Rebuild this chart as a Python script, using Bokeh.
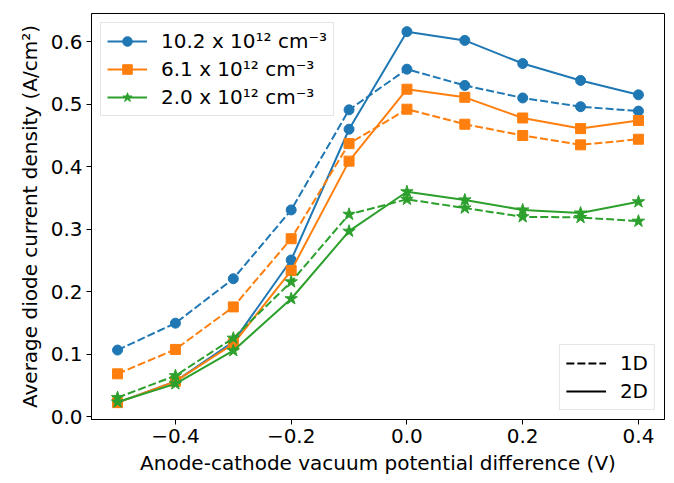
from bokeh.plotting import figure
from bokeh.models import Range1d, FixedTicker, Legend, LegendItem, ColumnDataSource
from bokeh.embed import file_html
from bokeh.resources import INLINE

# ---- data ----
voltage = [-0.5, -0.4, -0.3, -0.2, -0.1, 0.0, 0.1, 0.2, 0.3, 0.4]

blue_1d = [0.107, 0.150, 0.221, 0.331, 0.491, 0.556, 0.530, 0.510, 0.496, 0.489]
blue_2d = [0.023, 0.057, 0.120, 0.251, 0.460, 0.616, 0.602, 0.565, 0.538, 0.515]

orange_1d = [0.069, 0.108, 0.176, 0.285, 0.437, 0.492, 0.468, 0.450, 0.435, 0.444]
orange_2d = [0.023, 0.057, 0.117, 0.234, 0.409, 0.524, 0.511, 0.478, 0.461, 0.474]

green_1d = [0.031, 0.066, 0.126, 0.216, 0.324, 0.348, 0.334, 0.320, 0.319, 0.313]
green_2d = [0.024, 0.053, 0.106, 0.189, 0.297, 0.360, 0.347, 0.331, 0.326, 0.344]

series_labels = ["10.2 x 10\u00b9\u00b2 cm\u207b\u00b3",
                 "6.1 x 10\u00b9\u00b2 cm\u207b\u00b3",
                 "2.0 x 10\u00b9\u00b2 cm\u207b\u00b3"]
dim_labels = ["1D", "2D"]

x_ticks = [-0.4, -0.2, 0.0, 0.2, 0.4]
y_ticks = [0.0, 0.1, 0.2, 0.3, 0.4, 0.5, 0.6]

FONT = "DejaVu Sans"
DASH = "8 3"
NAN = float("nan")

p = figure(width=674, height=483, output_backend="svg", toolbar_location=None,
           x_range=Range1d(-0.545, 0.445), y_range=Range1d(-0.004, 0.645),
           min_border_left=91, min_border_right=10, min_border_top=13, min_border_bottom=64)

p.background_fill_color = "white"
p.border_fill_color = "white"
p.outline_line_color = "black"
p.outline_line_width = 1
p.xgrid.visible = False
p.ygrid.visible = False

for ax in (p.xaxis[0], p.yaxis[0]):
    ax.axis_line_color = "black"
    ax.major_tick_line_color = "black"
    ax.major_tick_out = 5
    ax.major_tick_in = 0
    ax.minor_tick_line_color = None
    ax.major_label_text_font = FONT
    ax.major_label_text_font_size = "20px"
    ax.major_label_text_color = "black"
    ax.axis_label_text_font = FONT
    ax.axis_label_text_font_size = "20px"
    ax.axis_label_text_font_style = "normal"
    ax.axis_label_text_color = "black"
    ax.major_label_standoff = 4

p.xaxis.ticker = FixedTicker(ticks=x_ticks)
p.yaxis.ticker = FixedTicker(ticks=y_ticks)
p.xaxis.major_label_overrides = {t: (f"{t:.1f}".replace("-", "\u2212")) for t in x_ticks}
p.yaxis.major_label_overrides = {t: f"{t:.1f}" for t in y_ticks}
p.xaxis.axis_label = "Anode-cathode vacuum potential difference (V)"
p.yaxis.axis_label = "Average diode current density (A/cm\u00b2)"
p.xaxis.axis_label_standoff = 5
p.yaxis.axis_label_standoff = 6

colors = ["#1f77b4", "#ff7f0e", "#2ca02c"]
markers = ["circle", "square", "star"]
sizes = [10, 10, 13]
data_1d = [blue_1d, orange_1d, green_1d]
data_2d = [blue_2d, orange_2d, green_2d]

items = []
for c, m, s, d1, d2, lab in zip(colors, markers, sizes, data_1d, data_2d, series_labels):
    src1 = ColumnDataSource(dict(x=voltage, y=d1))
    src2 = ColumnDataSource(dict(x=voltage, y=d2))
    p.line("x", "y", source=src1, color=c, line_width=2, line_dash=DASH)
    p.scatter("x", "y", source=src1, marker=m, size=s, color=c)
    l2 = p.line("x", "y", source=src2, color=c, line_width=2)
    s2 = p.scatter("x", "y", source=src2, marker=m, size=s, color=c)
    items.append(LegendItem(label=lab, renderers=[l2, s2]))

# legend-only style keys (no visible data)
d1r = p.line(x=[NAN, NAN], y=[NAN, NAN], color="black", line_width=2, line_dash=DASH)
d2r = p.line(x=[NAN, NAN], y=[NAN, NAN], color="black", line_width=2)

def style_legend(lg):
    lg.label_text_font = FONT
    lg.label_text_font_size = "20px"
    lg.label_text_color = "black"
    lg.border_line_color = "#cccccc"
    lg.border_line_width = 1
    lg.background_fill_color = "white"
    lg.background_fill_alpha = 0.8
    lg.glyph_width = 40
    lg.glyph_height = 24
    lg.label_height = 24
    lg.label_standoff = 14
    lg.spacing = 4
    lg.padding = 6
    lg.margin = 9

leg1 = Legend(items=items, location="top_left")
style_legend(leg1)
leg2 = Legend(items=[LegendItem(label=dim_labels[0], renderers=[d1r]),
                     LegendItem(label=dim_labels[1], renderers=[d2r])],
              location="bottom_right")
style_legend(leg2)
p.add_layout(leg1)
p.add_layout(leg2)

open("out.html", "w").write(file_html(p, INLINE))
